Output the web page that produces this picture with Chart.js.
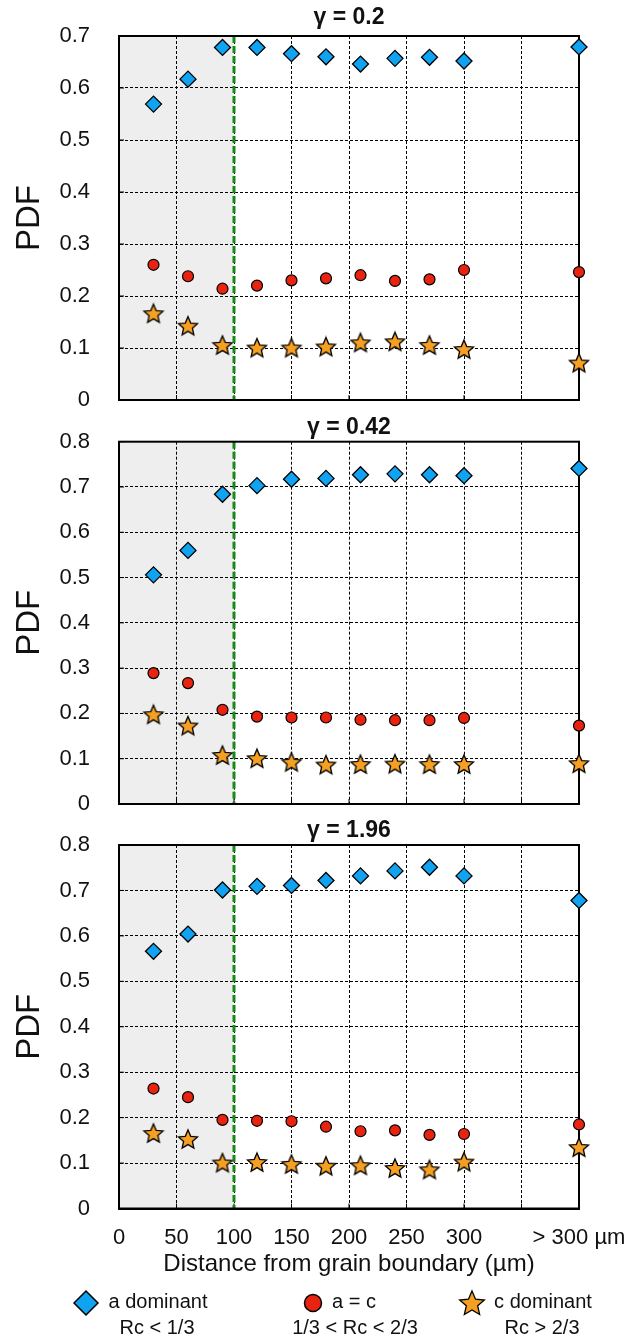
<!DOCTYPE html>
<html>
<head>
<meta charset="utf-8">
<script src="https://cdn.jsdelivr.net/npm/chart.js@4.4.1/dist/chart.umd.min.js"></script>
<style>
  body { margin: 0; background: #fff; width: 632px; height: 1342px; position: relative; overflow: hidden; }
  canvas { position: absolute; left: 0; }
</style>
</head>
<body>
<canvas id="p1" width="632" height="414" style="top:0px"></canvas>
<canvas id="p2" width="632" height="404" style="top:414px"></canvas>
<canvas id="p3" width="632" height="525" style="top:817px"></canvas>
<script>
// distance of each bin (µm); the last one stands for "> 300 µm"
var distances = [30, 60, 90, 120, 150, 180, 210, 240, 270, 300, 400];
var xTickValues = [0, 50, 100, 150, 200, 250, 300, 350, 400];
var xTickLabels = ['0', '50', '100', '150', '200', '250', '300', '', '> 300 µm'];
var panelTitles = ['γ = 0.2', 'γ = 0.42', 'γ = 1.96'];
var yMax = [0.7, 0.8, 0.8];
var seriesNames = ['a dominant', 'a = c', 'c dominant'];
var seriesRanges = ['Rc < 1/3', '1/3 < Rc < 2/3', 'Rc > 2/3'];
var boundaryZone = 100; // µm, shaded area and dashed line

// gamma = 0.2
var aDom1 = [0.569, 0.617, 0.678, 0.678, 0.666, 0.660, 0.646, 0.657, 0.659, 0.652, 0.679];
var aEqC1 = [0.260, 0.238, 0.214, 0.220, 0.230, 0.234, 0.240, 0.229, 0.232, 0.250, 0.246];
var cDom1 = [0.165, 0.141, 0.104, 0.099, 0.099, 0.101, 0.109, 0.111, 0.104, 0.096, 0.070];
// gamma = 0.42
var aDom2 = [0.506, 0.560, 0.684, 0.703, 0.717, 0.719, 0.727, 0.729, 0.727, 0.725, 0.741];
var aEqC2 = [0.289, 0.267, 0.208, 0.193, 0.191, 0.191, 0.186, 0.185, 0.185, 0.190, 0.173];
var cDom2 = [0.196, 0.171, 0.106, 0.099, 0.091, 0.085, 0.086, 0.087, 0.086, 0.086, 0.088];
// gamma = 1.96
var aDom3 = [0.566, 0.604, 0.701, 0.709, 0.711, 0.722, 0.732, 0.743, 0.751, 0.732, 0.678];
var aEqC3 = [0.264, 0.245, 0.195, 0.193, 0.192, 0.180, 0.170, 0.172, 0.162, 0.164, 0.185];
var cDom3 = [0.164, 0.151, 0.099, 0.100, 0.096, 0.092, 0.093, 0.087, 0.084, 0.101, 0.133];

var blue = '#0fa3f2', red = '#e8230f', orange = '#f5a023';
Chart.defaults.font.family = '"Liberation Sans", Arial, Helvetica, sans-serif';
Chart.defaults.color = '#111';

function starPath(g, cx, cy, r, inner) {
  g.beginPath();
  for (var k = 0; k < 10; k++) {
    var rr = k % 2 ? r * inner : r;
    var a = -Math.PI / 2 + k * Math.PI / 5;
    g.lineTo(cx + rr * Math.cos(a), cy + rr * Math.sin(a));
  }
  g.closePath();
}

function makeStar(r) {
  var size = Math.ceil(2 * r + 4);
  var c = document.createElement('canvas');
  c.width = size; c.height = size;
  var g = c.getContext('2d');
  starPath(g, size / 2, size / 2, r, 0.46);
  g.fillStyle = orange; g.fill();
  g.lineWidth = 1.3; g.strokeStyle = '#000'; g.lineJoin = 'miter'; g.stroke();
  return c;
}
var starImg = makeStar(10);
var starBig = makeStar(13);

function points(vals) {
  return distances.map(function (d, i) { return { x: d, y: vals[i] }; });
}

// shaded zone, dashed boundary line, frame and inward ticks
var panelDecor = {
  id: 'panelDecor',
  beforeDraw: function (chart) {
    var a = chart.chartArea, ctx = chart.ctx;
    var xb = chart.scales.x.getPixelForValue(boundaryZone);
    ctx.save();
    ctx.fillStyle = '#eeeeee';
    ctx.fillRect(a.left, a.top, xb - a.left, a.bottom - a.top);
    ctx.restore();
  },
  beforeDatasetsDraw: function (chart) {
    var a = chart.chartArea, ctx = chart.ctx, xs = chart.scales.x, ys = chart.scales.y;
    var xb = xs.getPixelForValue(boundaryZone);
    ctx.save();
    ctx.strokeStyle = '#000'; ctx.lineWidth = 1;
    ctx.beginPath();
    xs.ticks.forEach(function (t) {
      var px = xs.getPixelForValue(t.value);
      ctx.moveTo(px, a.bottom); ctx.lineTo(px, a.bottom - 5);
    });
    ys.ticks.forEach(function (t) {
      var py = ys.getPixelForValue(t.value);
      ctx.moveTo(a.left, py); ctx.lineTo(a.left + 5, py);
    });
    ctx.stroke();
    ctx.strokeStyle = '#168a16'; ctx.lineWidth = 3; ctx.setLineDash([7, 3]);
    ctx.beginPath(); ctx.moveTo(xb, a.top); ctx.lineTo(xb, a.bottom); ctx.stroke();
    ctx.setLineDash([]);
    ctx.strokeStyle = '#000'; ctx.lineWidth = 2;
    ctx.strokeRect(a.left, a.top, a.right - a.left, a.bottom - a.top);
    ctx.restore();
  }
};

// legend under the last panel: marker, name, Rc range
var legendBelow = {
  id: 'legendBelow',
  afterDraw: function (chart) {
    var ctx = chart.ctx;
    var markX = [86, 313, 472], nameX = [158, 354, 543], rangeX = [157, 355, 542];
    var my = 486;
    ctx.save();
    ctx.lineWidth = 1.5; ctx.strokeStyle = '#000';
    ctx.beginPath();
    ctx.moveTo(markX[0] - 12, my); ctx.lineTo(markX[0], my - 12);
    ctx.lineTo(markX[0] + 12, my); ctx.lineTo(markX[0], my + 12); ctx.closePath();
    ctx.fillStyle = blue; ctx.fill(); ctx.stroke();
    ctx.beginPath(); ctx.arc(markX[1], my, 8.5, 0, Math.PI * 2);
    ctx.fillStyle = red; ctx.fill(); ctx.stroke();
    ctx.drawImage(starBig, markX[2] - starBig.width / 2, my + 1 - starBig.height / 2);
    ctx.fillStyle = '#111';
    ctx.font = '20px "Liberation Sans", Arial, sans-serif';
    ctx.textAlign = 'center'; ctx.textBaseline = 'alphabetic';
    for (var i = 0; i < 3; i++) {
      ctx.fillText(seriesNames[i], nameX[i], 491);
      ctx.fillText(seriesRanges[i], rangeX[i], 517);
    }
    ctx.restore();
  }
};

function makePanel(id, idx, aDom, aEqC, cDom, lay) {
  var plugins = [panelDecor];
  if (lay.legend) plugins.push(legendBelow);
  return new Chart(document.getElementById(id), {
    type: 'scatter',
    data: {
      datasets: [
        { label: seriesNames[0], data: points(aDom), pointStyle: 'rectRot', pointRadius: 8,
          backgroundColor: blue, borderColor: '#000', borderWidth: 1.3, clip: false },
        { label: seriesNames[1], data: points(aEqC), pointStyle: 'circle', pointRadius: 5.5,
          backgroundColor: red, borderColor: '#000', borderWidth: 1.2, clip: false },
        { label: seriesNames[2], data: points(cDom), pointStyle: starImg,
          backgroundColor: orange, borderColor: '#000', clip: false }
      ]
    },
    options: {
      responsive: false,
      animation: false,
      events: [],
      layout: { padding: { left: 0, right: 53, top: 0, bottom: lay.bottomPad } },
      plugins: {
        legend: { display: false },
        tooltip: { enabled: false },
        title: {
          display: true, fullSize: false, text: panelTitles[idx],
          font: { size: 23, weight: 'bold' }, color: '#111',
          padding: { top: lay.titleTop, bottom: lay.titleBottom }
        }
      },
      scales: {
        x: {
          type: 'linear', min: 0, max: 400,
          ticks: {
            display: lay.showX, stepSize: 50, padding: 16, maxRotation: 0, autoSkip: false,
            font: { size: 22 }, color: '#111',
            callback: function (v) { return xTickLabels[xTickValues.indexOf(v)]; }
          },
          grid: { color: '#000', lineWidth: 1, drawTicks: false },
          border: { color: '#000', width: 2, dash: [3, 2] },
          title: { display: lay.showX, text: 'Distance from grain boundary (µm)',
                   font: { size: 24 }, color: '#111', padding: 0 },
          afterFit: function (s) {
            s.height = lay.xHeight;
            s.paddingLeft = 0; s.paddingRight = 0;
          }
        },
        y: {
          min: 0, max: yMax[idx],
          ticks: { stepSize: 0.1, padding: 29, font: { size: 22 }, color: '#111' },
          grid: { color: '#000', lineWidth: 1, drawTicks: false },
          border: { color: '#000', width: 2, dash: [3, 2] },
          title: { display: true, text: 'PDF', font: { size: 33 }, color: '#111',
                   padding: { top: 10, bottom: 0 } },
          afterFit: function (s) {
            s.width = 119;
            s.paddingTop = 0; s.paddingBottom = 0;
          }
        }
      }
    },
    plugins: plugins
  });
}

makePanel('p1', 0, aDom1, aEqC1, cDom1, { titleTop: 3.7, titleBottom: 4.7, xHeight: 14, bottomPad: 0, showX: false });
makePanel('p2', 1, aDom2, aEqC2, cDom2, { titleTop: 0, titleBottom: 0.1, xHeight: 14, bottomPad: 0, showX: false });
makePanel('p3', 2, aDom3, aEqC3, cDom3, { titleTop: 0, titleBottom: 0.4, xHeight: 70.4, bottomPad: 63.1, showX: true, legend: true });
</script>
</body>
</html>
